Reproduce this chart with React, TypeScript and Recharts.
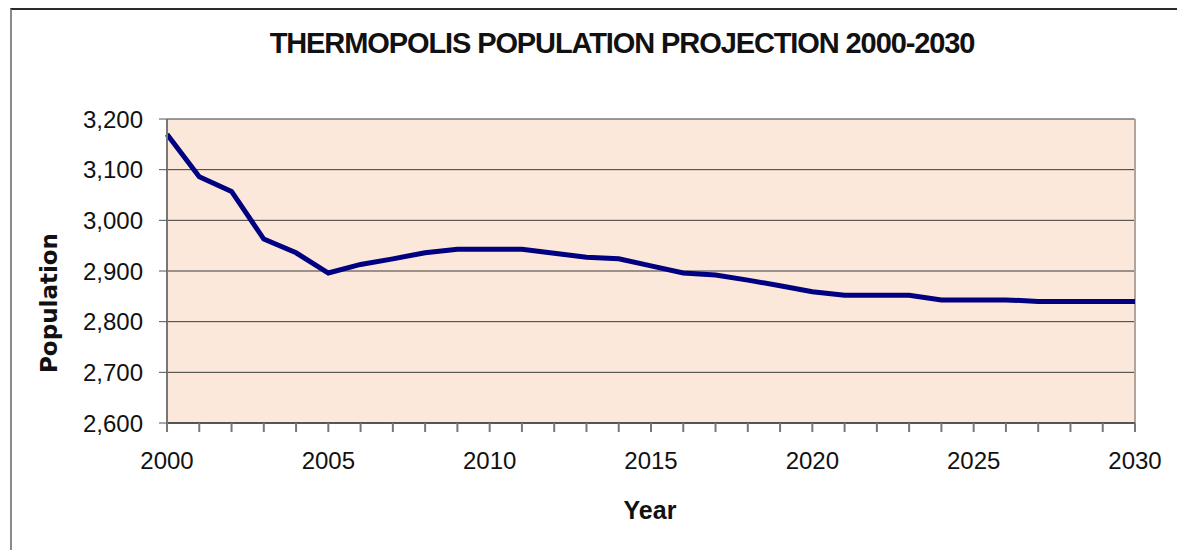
import React from 'react';
import { LineChart, Line, XAxis, YAxis, CartesianGrid, ReferenceLine } from 'recharts';

const YEARS = [
  2000, 2001, 2002, 2003, 2004, 2005, 2006, 2007, 2008, 2009, 2010,
  2011, 2012, 2013, 2014, 2015, 2016, 2017, 2018, 2019, 2020,
  2021, 2022, 2023, 2024, 2025, 2026, 2027, 2028, 2029, 2030,
];
const POPULATION = [
  3170, 3086, 3057, 2963, 2936, 2896, 2913, 2924, 2936, 2943, 2943,
  2943, 2935, 2927, 2924, 2910, 2896, 2892, 2882, 2871, 2859,
  2852, 2852, 2852, 2843, 2843, 2843, 2840, 2840, 2840, 2840,
];
const LABELED_YEARS = [2000, 2005, 2010, 2015, 2020, 2025, 2030];
const Y_TICKS = [2600, 2700, 2800, 2900, 3000, 3100, 3200];

const data = YEARS.map((year, i) => ({ year, population: POPULATION[i] }));

const tickFont = { fontFamily: '"Liberation Sans", Arial, sans-serif', fontSize: 24, fill: '#111' };

const App: React.FC = () => {
  return (
    <div style={{ position: 'absolute', left: 0, top: 0, width: 1177, height: 550, overflow: 'hidden', background: '#fff' }}>
      {/* outer chart frame */}
      <div
        style={{
          position: 'absolute', left: 10, top: 8, width: 1300, height: 700,
          borderLeft: '2px solid #8a8a8a', borderTop: '2px solid #2a2a2a',
        }}
      />

      <div
        style={{
          position: 'absolute', left: 122, top: 27, width: 1000, textAlign: 'center',
          fontFamily: '"Liberation Sans", Arial, sans-serif', fontWeight: 'bold',
          fontSize: 29, letterSpacing: -1.1, color: '#111',
        }}
      >
        THERMOPOLIS POPULATION PROJECTION 2000-2030
      </div>

      <svg style={{ position: 'absolute', left: 0, top: 0 }} width={1177} height={550}>
        <text
          x={57} y={303} transform="rotate(-90 57 303)" textAnchor="middle"
          fontFamily='"DejaVu Sans", sans-serif' fontWeight="bold" fontSize={23} fill="#111"
        >
          Population
        </text>
        <text
          x={650} y={519} textAnchor="middle"
          fontFamily='"Liberation Sans", Arial, sans-serif' fontWeight="bold" fontSize={25} fill="#111"
        >
          Year
        </text>
      </svg>

      <div style={{ position: 'absolute', left: 0, top: 0 }}>
        <LineChart
          width={1177}
          height={550}
          data={data}
          margin={{ top: 119, right: 42, left: 67, bottom: 67 }}
        >
          <CartesianGrid vertical={false} fill="#FCE8DA" fillOpacity={1} stroke="#3a3a3a" strokeOpacity={1} />
          <XAxis
            dataKey="year"
            type="number"
            domain={[2000, 2030]}
            ticks={YEARS}
            interval={0}
            height={60}
            tickSize={9}
            tickMargin={20}
            tick={tickFont}
            tickFormatter={(v: number) => (LABELED_YEARS.includes(v) ? String(v) : '')}
            axisLine={{ stroke: '#555', strokeWidth: 2 }}
            tickLine={{ stroke: '#777', strokeWidth: 2 }}
          />
          <YAxis
            type="number"
            domain={[2600, 3200]}
            ticks={Y_TICKS}
            interval={0}
            width={100}
            tickSize={8}
            tickMargin={16}
            tick={tickFont}
            tickFormatter={(v: number) => v.toLocaleString('en-US')}
            axisLine={{ stroke: '#777', strokeWidth: 2 }}
            tickLine={{ stroke: '#555', strokeWidth: 1 }}
          />
          <ReferenceLine x={2030} stroke="#b0a49c" strokeWidth={2} />
          <Line
            type="linear"
            dataKey="population"
            stroke="#000080"
            strokeWidth={5}
            dot={false}
            isAnimationActive={false}
          />
        </LineChart>
      </div>
    </div>
  );
};

export default App;
